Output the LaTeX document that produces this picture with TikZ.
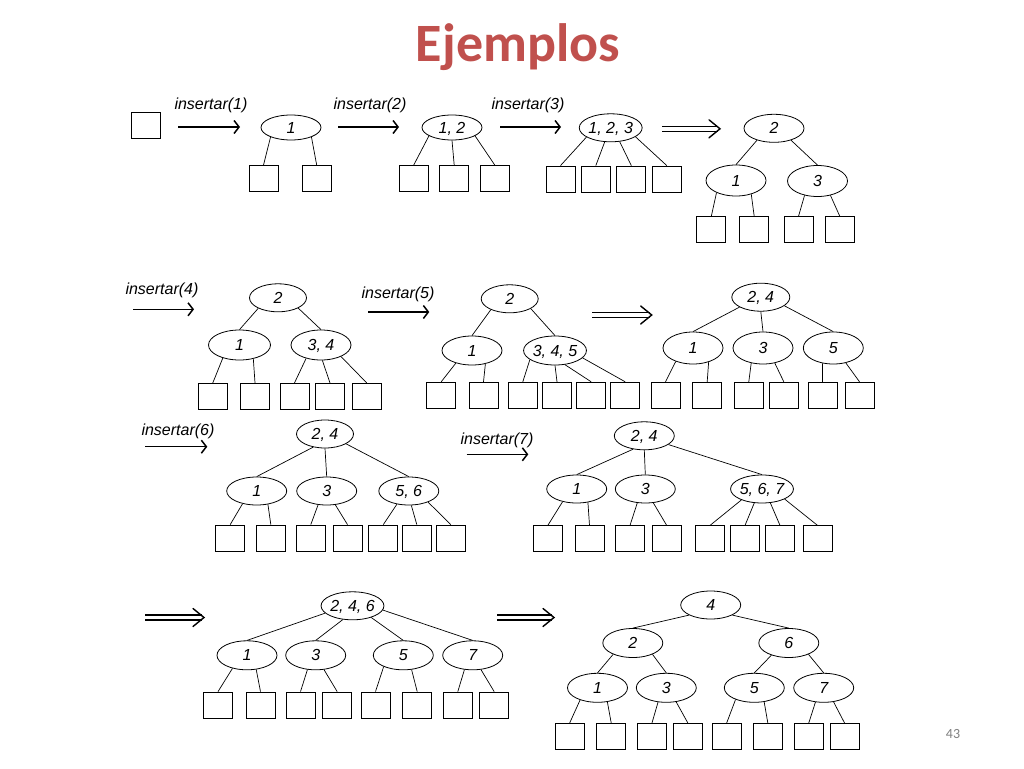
\documentclass[tikz,border=0pt]{standalone}
\usepackage{fontspec}
\usetikzlibrary{shapes.geometric,arrows.meta,calc}
\newfontfamily\lab{Liberation Sans}
\newfontfamily\ttl{Carlito}
\definecolor{titlered}{HTML}{C0504D}
\newcommand{\dblhead}[1]{\draw[line width=1.4pt, line cap=round] ($(#1)+(-11,-9)$) .. controls ($(#1)+(-5,-4)$) .. (#1) .. controls ($(#1)+(-5,4)$) .. ($(#1)+(-11,9)$);}
\begin{document}
\begin{tikzpicture}[x=1pt,y=-1pt,
  kn/.style={ellipse, draw, line width=0.8pt, minimum width=60pt, minimum height=28pt, inner sep=0pt, text depth=0pt, font=\lab\itshape\fontsize{16}{16}\selectfont},
  lf/.style={rectangle, draw, line width=0.8pt, minimum width=29pt, minimum height=26pt, inner sep=0pt},
  ed/.style={line width=0.7pt},
  ar/.style={line width=1.5pt, -{Straight Barb[length=5pt,width=13pt]}},
  dar/.style={double, double distance=3.4pt, line width=1.5pt},
  lbl/.style={font=\lab\itshape\fontsize{16}{16}\selectfont, inner sep=0pt}]
\fill[white] (0,0) rectangle (1024,768);
\useasboundingbox (0,0) rectangle (1024,768);
\node[font=\ttl\bfseries\fontsize{54}{54}\selectfont, text=titlered, anchor=base, inner sep=0pt] (title) at (518,61) {Ejemplos};
\node[font=\ttl\fontsize{14}{14}\selectfont, text=black!50, inner sep=0pt] (pg) at (953,734) {43};
% ---------- Row 1 ----------
\node[lf] (sq0) at (146,125) {};
\coordinate (a1s) at (178,127); \coordinate (a1e) at (240,127);
\draw[ar] (a1s) -- (a1e);
\node[lbl] (l1) at (211,105) {insertar(1)};
\node[kn, minimum height=25pt] (A) at (291,127.5) {1};
\node[lf] (A1) at (263.5,178.5) {};
\node[lf] (A2) at (316.7,178.5) {};
\draw[ed] (A.205) -- (A1.north); \draw[ed] (A.335) -- (A2.north);
\coordinate (a2s) at (338,127); \coordinate (a2e) at (399,127);
\draw[ar] (a2s) -- (a2e);
\node[lbl] (l2) at (370,105) {insertar(2)};
\node[kn, minimum height=25pt] (B) at (452,127.5) {1, 2};
\node[lf] (B1) at (413.7,178.5) {};
\node[lf] (B2) at (454.2,178.5) {};
\node[lf] (B3) at (494.8,178.5) {};
\draw[ed] (B.200) -- (B1.north); \draw[ed] (B.270) -- (B2.north); \draw[ed] (B.340) -- (B3.north);
\coordinate (a3s) at (500,127); \coordinate (a3e) at (561,127);
\draw[ar] (a3s) -- (a3e);
\node[lbl] (l3) at (528,105) {insertar(3)};
\node[kn] (C) at (610.7,127.8) {1, 2, 3};
\node[lf] (C1) at (560.5,179) {};
\node[lf] (C2) at (595.8,179) {};
\node[lf] (C3) at (631.3,179) {};
\node[lf] (C4) at (666.8,179) {};
\draw[ed] (C.201) -- (C1.north); \draw[ed] (C.247) -- (C2.north); \draw[ed] (C.303) -- (C3.north); \draw[ed] (C.340) -- (C4.north);
\coordinate (d1s) at (662,128.8); \coordinate (d1t) at (718,128.8); \coordinate (d1e) at (720,128.8);
\draw[dar] (d1s) -- (d1t); \dblhead{d1e}
\node[kn] (D0) at (774,128.3) {2};
\node[kn, minimum height=31pt] (D1) at (736,180.5) {1};
\node[kn, minimum height=31pt] (D2) at (817.5,181) {3};
\draw[ed] (D0.215) -- (D1.north); \draw[ed] (D0.325) -- (D2.north);
\node[lf] (DL1) at (711.3,229.7) {};
\node[lf] (DL2) at (754.2,229.7) {};
\node[lf] (DL3) at (798.5,229.7) {};
\node[lf] (DL4) at (839.8,229.7) {};
\draw[ed] (D1.212) -- (DL1.north); \draw[ed] (D1.318) -- (DL2.north);
\draw[ed] (D2.228) -- (DL3.north); \draw[ed] (D2.312) -- (DL4.north);
% ---------- Row 2 ----------
\node[lbl] (l4) at (162,290) {insertar(4)};
\coordinate (a4s) at (133,309.3); \coordinate (a4e) at (194,309.3);
\draw[ar] (a4s) -- (a4e);
\node[kn, minimum width=57pt] (E0) at (278,297.8) {2};
\node[kn, minimum width=62pt, minimum height=30pt] (E1) at (239.5,345) {1};
\node[kn, minimum height=30pt] (E2) at (321,345) {3, 4};
\draw[ed] (E0.208) -- (E1.north); \draw[ed] (E0.333) -- (E2.north);
\node[lf] (EL1) at (212.8,396.3) {};
\node[lf] (EL2) at (255,396.3) {};
\node[lf] (EL3) at (294.5,396.3) {};
\node[lf] (EL4) at (330,396.3) {};
\node[lf] (EL5) at (366.7,396.3) {};
\draw[ed] (E1.218) -- (EL1.north); \draw[ed] (E1.315) -- (EL2.north);
\draw[ed] (E2.222) -- (EL3.north); \draw[ed] (E2.275) -- (EL4.north); \draw[ed] (E2.330) -- (EL5.north);
\node[lbl] (l5) at (398,294) {insertar(5)};
\coordinate (a5s) at (368.3,312); \coordinate (a5e) at (429.3,312);
\draw[ar] (a5s) -- (a5e);
\node[kn, minimum width=57pt] (F0) at (509.7,298.8) {2};
\node[kn, minimum height=29pt] (F1) at (472,350.5) {1};
\node[kn, minimum height=29pt] (F2) at (555,350.5) {3, 4, 5};
\draw[ed] (F0.210) -- (F1.north); \draw[ed] (F0.335) -- (F2.north);
\node[lf] (FL1) at (441.2,395.2) {};
\node[lf] (FL2) at (483.5,395.2) {};
\node[lf] (FL3) at (522.8,395.2) {};
\node[lf] (FL4) at (557,395.2) {};
\node[lf] (FL5) at (591.2,395.2) {};
\node[lf] (FL6) at (625.2,395.2) {};
\draw[ed] (F1.218) -- (FL1.north); \draw[ed] (F1.315) -- (FL2.north);
\draw[ed] (F2.200) -- (FL3.north); \draw[ed] (F2.270) -- (FL4.north); \draw[ed] (F2.305) -- (FL5.north); \draw[ed] (F2.345) -- (FL6.north);
\coordinate (d2s) at (592.3,315); \coordinate (d2t) at (649.7,315); \coordinate (d2e) at (651.7,315);
\draw[dar] (d2s) -- (d2t); \dblhead{d2e}
\node[kn, minimum width=58pt] (G0) at (760.8,297.2) {2, 4};
\node[kn, minimum height=32pt] (G1) at (693,348) {1};
\node[kn, minimum height=32pt] (G2) at (763,348) {3};
\node[kn, minimum height=32pt] (G3) at (833.3,348) {5};
\draw[ed] (G0.205) -- (G1.north); \draw[ed] (G0.270) -- (G2.north); \draw[ed] (G0.340) -- (G3.north);
\node[lf] (GL1) at (665.5,395.2) {};
\node[lf] (GL2) at (707.2,395.2) {};
\node[lf] (GL3) at (748.8,395.2) {};
\node[lf] (GL4) at (783.8,395.2) {};
\node[lf] (GL5) at (822.5,395.2) {};
\node[lf] (GL6) at (859.5,395.2) {};
\draw[ed] (G1.218) -- (GL1.north); \draw[ed] (G1.318) -- (GL2.north);
\draw[ed] (G2.232) -- (GL3.north); \draw[ed] (G2.308) -- (GL4.north);
\draw[ed] (G3.235) -- (GL5.north); \draw[ed] (G3.310) -- (GL6.north);
% ---------- Row 3 ----------
\node[lbl] (l6) at (178,431) {insertar(6)};
\coordinate (a6s) at (145,446.7); \coordinate (a6e) at (207.3,446.7);
\draw[ar] (a6s) -- (a6e);
\node[kn, minimum width=57pt] (H0) at (325,434) {2, 4};
\node[kn] (H1) at (256.7,491) {1};
\node[kn] (H2) at (326.7,491) {3};
\node[kn] (H3) at (408.8,491) {5, 6};
\draw[ed] (H0.228) -- (H1.north); \draw[ed] (H0.270) -- (H2.north); \draw[ed] (H0.335) -- (H3.north);
\node[lf] (HL1) at (230.2,538) {};
\node[lf] (HL2) at (270.8,538) {};
\node[lf] (HL3) at (310.8,538) {};
\node[lf] (HL4) at (347.5,538) {};
\node[lf] (HL5) at (383.3,538) {};
\node[lf] (HL6) at (416.8,538) {};
\node[lf] (HL7) at (450.8,538) {};
\draw[ed] (H1.222) -- (HL1.north); \draw[ed] (H1.310) -- (HL2.north);
\draw[ed] (H2.238) -- (HL3.north); \draw[ed] (H2.302) -- (HL4.north);
\draw[ed] (H3.228) -- (HL5.north); \draw[ed] (H3.280) -- (HL6.north); \draw[ed] (H3.330) -- (HL7.north);
\node[lbl] (l7) at (497,440) {insertar(7)};
\coordinate (a7s) at (466.7,454.3); \coordinate (a7e) at (528.3,454.3);
\draw[ar] (a7s) -- (a7e);
\node[kn] (I0) at (644.3,435.8) {2, 4};
\node[kn] (I1) at (576.7,489) {1};
\node[kn] (I2) at (645.3,489) {3};
\node[kn] (I3) at (762,489) {5, 6, 7};
\draw[ed] (I0.230) -- (I1.north); \draw[ed] (I0.270) -- (I2.north); \draw[ed] (I0.340) -- (I3.north);
\node[lf] (IL1) at (547.8,538.8) {};
\node[lf] (IL2) at (589.5,538.8) {};
\node[lf] (IL3) at (630,538.8) {};
\node[lf] (IL4) at (666.7,538.8) {};
\node[lf] (IL5) at (710,538.8) {};
\node[lf] (IL6) at (745,538.8) {};
\node[lf] (IL7) at (780,538.8) {};
\node[lf] (IL8) at (817.5,538.8) {};
\draw[ed] (I1.222) -- (IL1.north); \draw[ed] (I1.310) -- (IL2.north);
\draw[ed] (I2.240) -- (IL3.north); \draw[ed] (I2.300) -- (IL4.north);
\draw[ed] (I3.208) -- (IL5.north); \draw[ed] (I3.241) -- (IL6.north); \draw[ed] (I3.301) -- (IL7.north); \draw[ed] (I3.336) -- (IL8.north);
% ---------- Row 4 ----------
\coordinate (d3s) at (145,617.5); \coordinate (d3t) at (202,617.5); \coordinate (d3e) at (204,617.5);
\draw[dar] (d3s) -- (d3t); \dblhead{d3e}
\node[kn] (J0) at (352.5,605.8) {2, 4, 6};
\node[kn, minimum height=29pt] (J1) at (247,655.3) {1};
\node[kn, minimum height=29pt] (J2) at (315.7,655.3) {3};
\node[kn, minimum height=29pt] (J3) at (403.3,655.3) {5};
\node[kn, minimum height=29pt] (J4) at (472.7,655.3) {7};
\draw[ed] (J0.195) -- (J1.north); \draw[ed] (J0.235) -- (J2.north); \draw[ed] (J0.328) -- (J3.north); \draw[ed] (J0.352) -- (J4.north);
\node[lf] (JL1) at (218,705) {};
\node[lf] (JL2) at (260.5,705) {};
\node[lf] (JL3) at (300.5,705) {};
\node[lf] (JL4) at (337.2,705) {};
\node[lf] (JL5) at (375.5,705) {};
\node[lf] (JL6) at (417.2,705) {};
\node[lf] (JL7) at (457.8,705) {};
\node[lf] (JL8) at (494.2,705) {};
\draw[ed] (J1.222) -- (JL1.north); \draw[ed] (J1.303) -- (JL2.north);
\draw[ed] (J2.240) -- (JL3.north); \draw[ed] (J2.300) -- (JL4.north);
\draw[ed] (J3.210) -- (JL5.north); \draw[ed] (J3.300) -- (JL6.north);
\draw[ed] (J4.240) -- (JL7.north); \draw[ed] (J4.300) -- (JL8.north);
\coordinate (d4s) at (497.3,617.5); \coordinate (d4t) at (552,617.5); \coordinate (d4e) at (554,617.5);
\draw[dar] (d4s) -- (d4t); \dblhead{d4e}
\node[kn] (K0) at (710.7,605) {4};
\node[kn, minimum height=29pt] (K1) at (632.8,643) {2};
\node[kn, minimum height=29pt] (K2) at (788.8,643) {6};
\node[kn, minimum height=29pt] (K3) at (597.5,687.8) {1};
\node[kn, minimum height=29pt] (K4) at (666.3,687.8) {3};
\node[kn, minimum height=29pt] (K5) at (754.3,687.8) {5};
\node[kn, minimum height=29pt] (K6) at (823.7,687.8) {7};
\draw[ed] (K0.205) -- (K1.north); \draw[ed] (K0.335) -- (K2.north);
\draw[ed] (K1.210) -- (K3.north); \draw[ed] (K1.330) -- (K4.north);
\draw[ed] (K2.215) -- (K5.north); \draw[ed] (K2.330) -- (K6.north);
\node[lf] (KL1) at (569.7,736.3) {};
\node[lf] (KL2) at (611.2,736.3) {};
\node[lf] (KL3) at (652,736.3) {};
\node[lf] (KL4) at (687.8,736.3) {};
\node[lf] (KL5) at (726.7,736.3) {};
\node[lf] (KL6) at (767.8,736.3) {};
\node[lf] (KL7) at (808.8,736.3) {};
\node[lf] (KL8) at (844.5,736.3) {};
\draw[ed] (K3.215) -- (KL1.north); \draw[ed] (K3.305) -- (KL2.north);
\draw[ed] (K4.240) -- (KL3.north); \draw[ed] (K4.305) -- (KL4.north);
\draw[ed] (K5.212) -- (KL5.north); \draw[ed] (K5.305) -- (KL6.north);
\draw[ed] (K6.240) -- (KL7.north); \draw[ed] (K6.305) -- (KL8.north);
\end{tikzpicture}
\end{document}
